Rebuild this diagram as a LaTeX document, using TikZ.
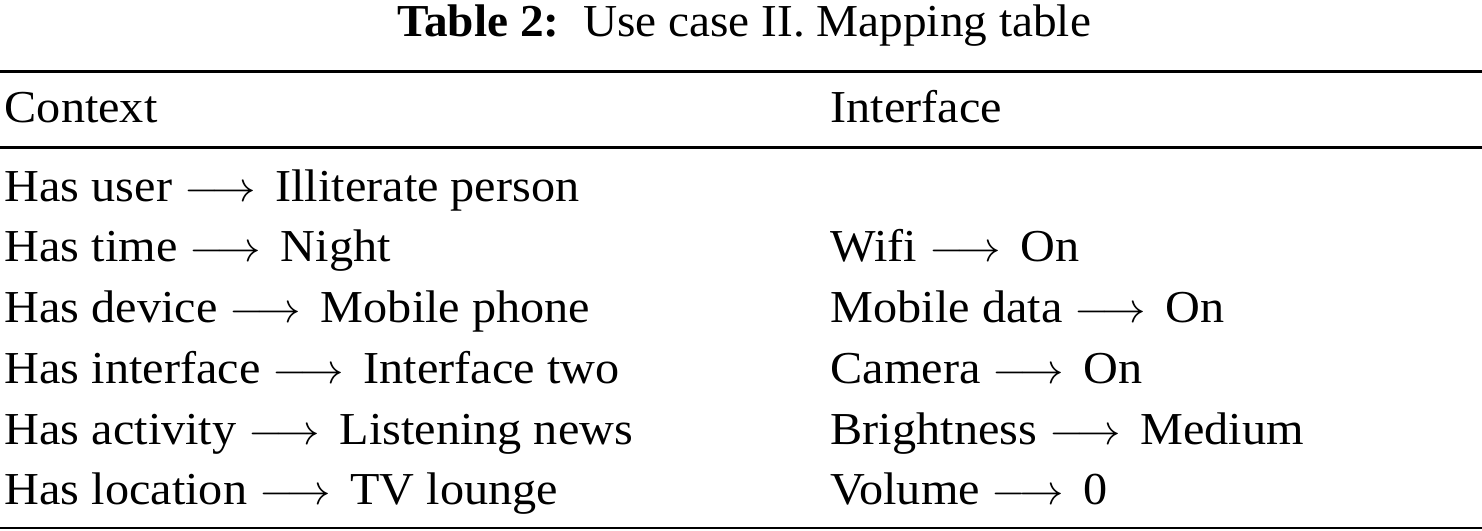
\documentclass[tikz,border=0pt]{standalone}
\usepackage{fontspec}
\setmainfont{Liberation Serif}
\usetikzlibrary{positioning}
\newcommand{\maps}{$\longrightarrow$\hspace{2pt}\ }

\begin{document}
\begin{tikzpicture}[x=0.01cm, y=-0.01cm,
    cell/.style={anchor=base west, inner sep=0pt, xscale=1.055, transform shape, font=\fontsize{13}{15}\selectfont},
    rulebar/.style={line width=0.85pt}]
    \useasboundingbox (0,0) rectangle (1482,531);

    % Caption
    \node[cell, anchor=base, xscale=0.98] (caption) at (744,37) {\textbf{Table 2:}\enspace Use case II. Mapping table};

    % Rules
    \coordinate (topL) at (0,71.5);  \coordinate (topR) at (1482,71.5);
    \coordinate (midL) at (0,147.5); \coordinate (midR) at (1482,147.5);
    \coordinate (botL) at (0,528);   \coordinate (botR) at (1482,528);
    \draw[rulebar] (topL) -- (topR);
    \draw[rulebar] (midL) -- (midR);
    \draw[rulebar] (botL) -- (botR);

    % Header
    \node[cell] (context) at (4,123) {Context};
    \node[cell] (interface) at (830,123) {Interface};

    % Rows
    \node[cell] (ctx1) at (4,202) {Has user \maps Illiterate person};
    \node[cell] (ctx2) at (4,262) {Has time \maps Night};
    \node[cell] (ctx3) at (4,323) {Has device \maps Mobile phone};
    \node[cell] (ctx4) at (4,384) {Has interface \maps Interface two};
    \node[cell] (ctx5) at (4,445) {Has activity \maps Listening news};
    \node[cell] (ctx6) at (4,505) {Has location \maps TV lounge};

    \node[cell] (ifc2) at (830,262) {Wifi \maps On};
    \node[cell] (ifc3) at (830,323) {Mobile data \maps On};
    \node[cell] (ifc4) at (830,384) {Camera \maps On};
    \node[cell] (ifc5) at (830,445) {Brightness \maps Medium};
    \node[cell] (ifc6) at (830,505) {Volume \maps 0};
\end{tikzpicture}
\end{document}
